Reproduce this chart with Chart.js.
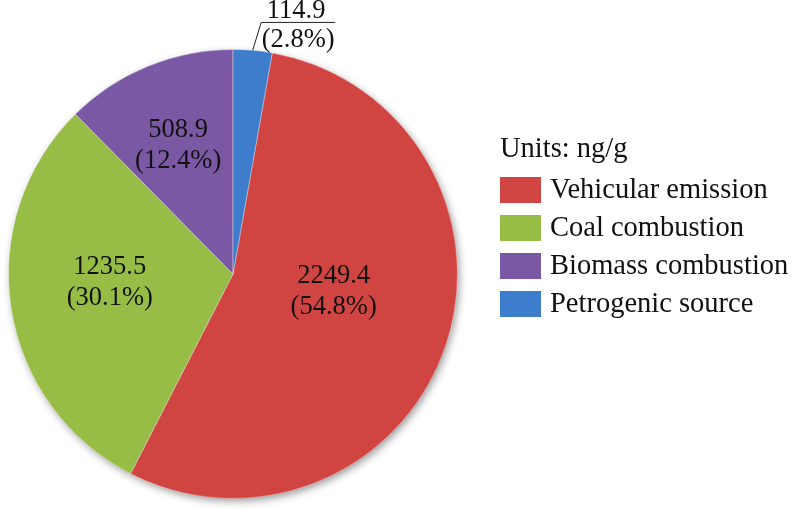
<!DOCTYPE html>
<html>
<head>
<meta charset="utf-8">
<script src="https://cdn.jsdelivr.net/npm/chart.js@4.4.1/dist/chart.umd.min.js"></script>
<style>
  html, body { margin: 0; padding: 0; background: #fff; }
  #wrap { width: 793px; height: 509px; }
</style>
</head>
<body>
<div id="wrap"><canvas id="grafica" width="793" height="509"></canvas></div>
<script>
// Sources and their concentrations (ng/g)
const fuentes = ["Vehicular emission", "Coal combustion", "Biomass combustion", "Petrogenic source"];
const valores = [2249.4, 1235.5, 508.9, 114.9];
// Percentages as printed on the chart
const porcentajes = [54.8, 30.1, 12.4, 2.8];
const colores = ['#D04542', '#97BD47', '#7A58A3', '#3D7DCB'];
const unidades = "Units: ng/g";

// where each label sits inside its slice: fraction of the sweep, fraction of radius
const posEtiquetas = [
  { t: 0.455, r: 0.455 },
  { t: 0.545, r: 0.55 },
  { t: 0.484, r: 0.625 },
  { t: 0.5, r: null } // outside, with a leader line
];

const total = valores.reduce((a, b) => a + b, 0);
// petrogenic slice ends at 12 o'clock, so vehicular starts after it
const giro = valores[valores.length - 1] / total * 360;

const fuenteTxt = '"Liberation Serif", "Times New Roman", serif';

// soft shadow under the pie
const sombra = {
  id: 'sombra',
  beforeDatasetsDraw(chart) {
    const arc = chart.getDatasetMeta(0).data[0];
    if (!arc) return;
    const ctx = chart.ctx;
    ctx.save();
    ctx.shadowColor = 'rgba(0,0,0,0.45)';
    ctx.shadowBlur = 8;
    ctx.shadowOffsetX = 2;
    ctx.shadowOffsetY = 3;
    ctx.fillStyle = '#888';
    ctx.beginPath();
    ctx.arc(arc.x, arc.y, arc.outerRadius - 1, 0, Math.PI * 2);
    ctx.fill();
    ctx.restore();
  }
};

// value + percentage labels
const etiquetas = {
  id: 'etiquetas',
  afterDatasetsDraw(chart) {
    const ctx = chart.ctx;
    const meta = chart.getDatasetMeta(0);
    ctx.save();
    ctx.fillStyle = '#111';
    ctx.font = '26.5px ' + fuenteTxt;
    ctx.textAlign = 'center';
    ctx.textBaseline = 'middle';
    meta.data.forEach((arc, i) => {
      const p = posEtiquetas[i];
      const a = arc.startAngle + (arc.endAngle - arc.startAngle) * p.t;
      const l1 = valores[i].toFixed(1);
      const l2 = '(' + porcentajes[i].toFixed(1) + '%)';
      if (p.r !== null) {
        const x = arc.x + Math.cos(a) * arc.outerRadius * p.r;
        const y = arc.y + Math.sin(a) * arc.outerRadius * p.r;
        ctx.fillText(l1, x, y - 15);
        ctx.fillText(l2, x, y + 16);
      } else {
        // leader line from the rim, then a short rule between the two lines
        const x0 = arc.x + Math.cos(a) * arc.outerRadius;
        const y0 = arc.y + Math.sin(a) * arc.outerRadius;
        const x1 = arc.x + Math.cos(a) * arc.outerRadius * 1.125 + 6;
        const y1 = arc.y + Math.sin(a) * arc.outerRadius * 1.125;
        ctx.strokeStyle = '#222';
        ctx.lineWidth = 1;
        ctx.beginPath();
        ctx.moveTo(x0, y0);
        ctx.lineTo(x1, y1);
        ctx.lineTo(x1 + 74, y1);
        ctx.stroke();
        const cx = x1 + 37;
        ctx.fillText(l1, cx - 2, y1 - 11);
        ctx.fillText(l2, cx, y1 + 18);
      }
    });
    ctx.restore();
  }
};

// legend on the right with the units heading
const leyenda = {
  id: 'leyenda',
  afterDraw(chart) {
    const ctx = chart.ctx;
    const x = 500, y0 = 177, paso = 38;
    ctx.save();
    ctx.textAlign = 'left';
    ctx.textBaseline = 'middle';
    ctx.fillStyle = '#111';
    ctx.font = '28.5px ' + fuenteTxt;
    ctx.fillText(unidades, x, 150);
    chart.data.labels.forEach((lab, i) => {
      const y = y0 + i * paso;
      ctx.fillStyle = chart.data.datasets[0].backgroundColor[i];
      ctx.fillRect(x, y, 41, 26);
      ctx.fillStyle = '#111';
      ctx.fillText(lab, x + 50, y + 14);
    });
    ctx.restore();
  }
};

new Chart(document.getElementById('grafica'), {
  type: 'pie',
  data: {
    labels: fuentes,
    datasets: [{
      data: valores,
      backgroundColor: colores,
      borderColor: 'rgba(255,255,255,0.35)',
      borderWidth: 1
    }]
  },
  options: {
    responsive: false,
    animation: false,
    rotation: giro,
    layout: { padding: { left: 8, right: 335, top: 49, bottom: 10 } },
    plugins: {
      legend: { display: false },
      tooltip: { enabled: false }
    }
  },
  plugins: [sombra, etiquetas, leyenda]
});
</script>
</body>
</html>
